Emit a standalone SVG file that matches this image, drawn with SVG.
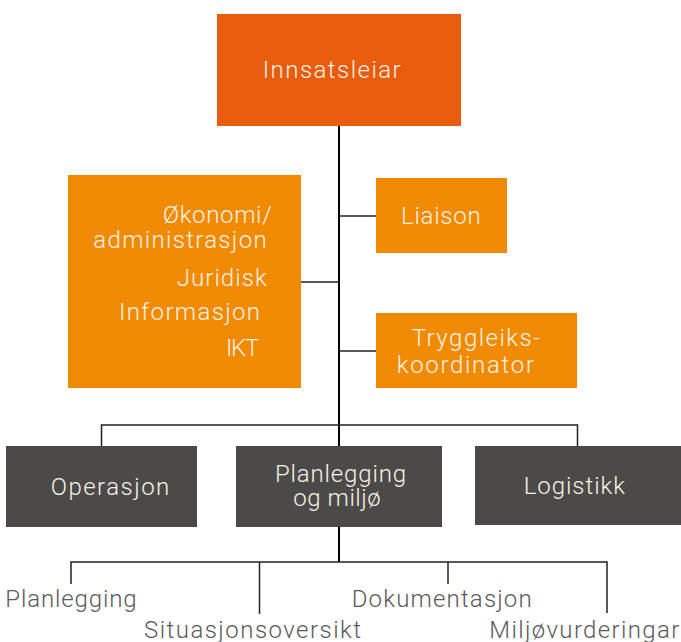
<svg xmlns="http://www.w3.org/2000/svg" width="681" height="642" viewBox="0 0 681 642">
<style>
text{font-family:Roboto,"Liberation Sans",Arial,sans-serif;font-size:24px;font-weight:300;}
.lt{fill:#F6F1E4;}
.gt{fill:#5A5A5A;}
.top{fill:#E95C0D;}
.org{fill:#F08A00;}
.dk{fill:#4B4A48;}
.main{stroke:#000;stroke-width:2;fill:none;}
.thin{stroke:#222;stroke-width:1.5;fill:none;}
</style>
<rect width="681" height="642" fill="#fff"/>
<g id="connectors">
<line class="main" x1="339" y1="126" x2="339" y2="446"/>
<line class="thin" x1="301" y1="282" x2="339" y2="282"/>
<line class="thin" x1="339" y1="216" x2="376" y2="216"/>
<line class="thin" x1="339" y1="351" x2="376" y2="351"/>
<polyline class="thin" points="101.5,446 101.5,425 577.5,425 577.5,446"/>
<line class="main" x1="339" y1="526" x2="339" y2="562"/>
<polyline class="thin" points="71,584 71,562 607,562 607,613"/>
<line class="thin" x1="259.5" y1="562" x2="259.5" y2="614"/>
<line class="thin" x1="448" y1="562" x2="448" y2="584"/>
</g>
<g id="innsatsleiar">
<rect class="top" x="217" y="14" width="244" height="112"/>
<text class="lt" x="262.7" y="78.3" textLength="138" lengthAdjust="spacing">Innsatsleiar</text>
</g>
<g id="stab">
<rect class="org" x="68" y="175" width="233" height="213"/>
<text class="lt" x="162.7" y="222.7" textLength="109" lengthAdjust="spacing">Økonomi/</text>
<text class="lt" x="93.3" y="248.3" textLength="173.3" lengthAdjust="spacing">administrasjon</text>
<text class="lt" x="176.7" y="286" textLength="90" lengthAdjust="spacing">Juridisk</text>
<text class="lt" x="119" y="320" textLength="141" lengthAdjust="spacing">Informasjon</text>
<text class="lt" x="226" y="356" textLength="33.3" lengthAdjust="spacing">IKT</text>
</g>
<g id="liaison">
<rect class="org" x="376" y="178" width="131" height="75"/>
<text class="lt" x="401" y="224" textLength="79.7" lengthAdjust="spacing">Liaison</text>
</g>
<g id="tryggleik">
<rect class="org" x="376" y="313" width="201" height="75"/>
<text class="lt" x="411.7" y="346" textLength="128.3" lengthAdjust="spacing">Tryggleiks-</text>
<text class="lt" x="396.7" y="372.7" textLength="137.3" lengthAdjust="spacing">koordinator</text>
</g>
<g id="operasjon">
<rect class="dk" x="6" y="446" width="191" height="81"/>
<text class="lt" x="50.7" y="495" textLength="118.6" lengthAdjust="spacing">Operasjon</text>
</g>
<g id="planlegging-miljo">
<rect class="dk" x="236" y="446" width="206" height="81"/>
<text class="lt" x="275" y="481.7" textLength="131" lengthAdjust="spacing">Planlegging</text>
<text class="lt" x="293.3" y="506.3" textLength="87.4" lengthAdjust="spacing">og miljø</text>
</g>
<g id="logistikk">
<rect class="dk" x="475" y="446" width="206" height="79"/>
<text class="lt" x="523.7" y="494" textLength="101.3" lengthAdjust="spacing">Logistikk</text>
</g>
<g id="planlegging">
<text class="gt" x="5.3" y="606.7" textLength="131.4" lengthAdjust="spacing">Planlegging</text>
</g>
<g id="situasjonsoversikt">
<text class="gt" x="144" y="638.3" textLength="217" lengthAdjust="spacing">Situasjonsoversikt</text>
</g>
<g id="dokumentasjon">
<text class="gt" x="351.7" y="606.7" textLength="180" lengthAdjust="spacing">Dokumentasjon</text>
</g>
<g id="miljovurderingar">
<text class="gt" x="489.3" y="638.3" textLength="190" lengthAdjust="spacing">Miljøvurderingar</text>
</g>
</svg>
